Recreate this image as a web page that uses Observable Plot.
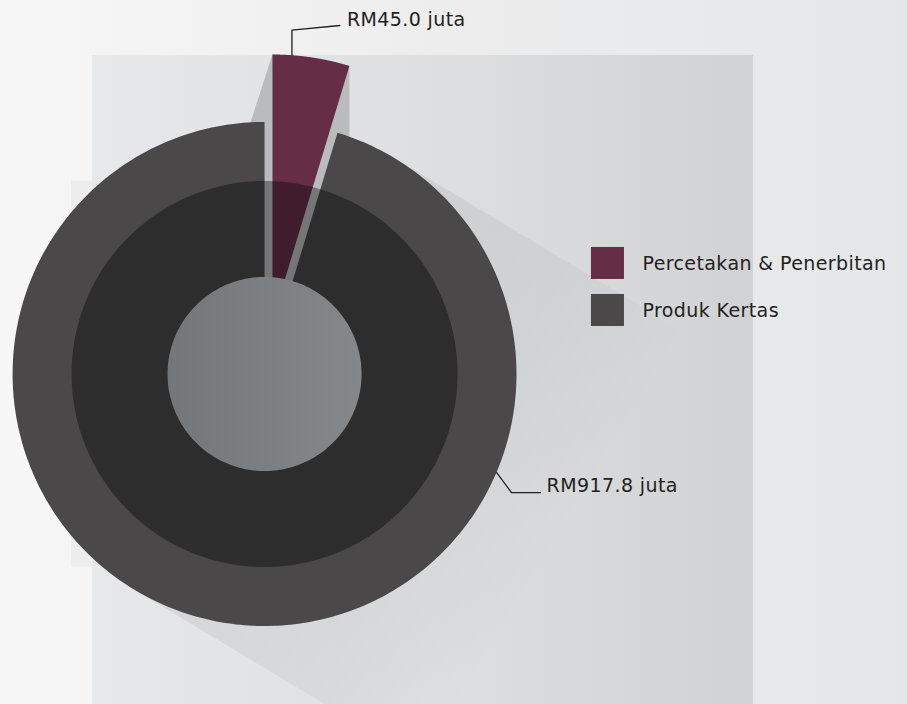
<!DOCTYPE html>
<html>
<head>
<meta charset="utf-8">
<script src="https://cdn.jsdelivr.net/npm/d3@7"></script>
<script src="https://cdn.jsdelivr.net/npm/@observablehq/plot@0.6"></script>
<style>
  html, body { margin: 0; padding: 0; background: #efefef; }
  #chart svg { display: block; }
</style>
</head>
<body>
<div id="chart"></div>
<script>
// ---- data ----
const categories = ["Percetakan & Penerbitan", "Produk Kertas"];
const values = [45.0, 917.8];
const valueLabels = ["RM45.0 juta", "RM917.8 juta"];
const sliceColors = ["#662e46", "#4a4848"];

// ---- layout (units of the pie radius, pie centred at 0,0) ----
const W = 907, H = 704;
const xDomain = [-1.048, 2.552];
const yDomain = [-1.3115, 1.482];
const R = 1, overlayR = 0.766, holeR = 0.385, explodeR = 1.055, explodeOff = 0.215;
const panel = {x1: -0.6825, x2: 1.9405, y1: -1.3115, y2: 1.264};
const shadowDir = -31 * Math.PI / 180; // long shadow direction (down-right)

const arcs = d3.pie().sort(null).value(d => d)(values);

function pt(c, r, a) { return {x: c.x + r * Math.sin(a), y: c.y + r * Math.cos(a)}; }
function sector(c, r, a0, a1, n = 180) {
  const p = [{x: c.x, y: c.y}];
  for (let i = 0; i <= n; i++) p.push(pt(c, r, a0 + (a1 - a0) * i / n));
  return p;
}
function circle(r, n = 240) {
  const p = [];
  for (let i = 0; i < n; i++) p.push(pt({x: 0, y: 0}, r, 2 * Math.PI * i / n));
  return p;
}
const O = {x: 0, y: 0};

// exploded first slice
const a0 = arcs[0].startAngle, a1 = arcs[0].endAngle, am = (a0 + a1) / 2;
const apex = pt(O, explodeOff, am);
const slice0 = sector(apex, explodeR, a0, a1);
const slice1 = sector(O, R, arcs[1].startAngle, arcs[1].endAngle, 360);
const TL = pt(apex, explodeR, a0), TR = pt(apex, explodeR, a1);
const sliceShadow = [TL, TR, {x: TR.x, y: 0.3}, {x: -0.01, y: 0.3}, {x: TL.x - 0.09, y: 0.99}];

// long shadow of the ring
const dx = Math.cos(shadowDir), dy = Math.sin(shadowDir);
const nx = -dy, ny = dx;
const P1 = {x: nx * R, y: ny * R}, P2 = {x: -nx * R, y: -ny * R};
const L = 3;
const longShadow = [P1, {x: P1.x + L * dx, y: P1.y + L * dy}, {x: P2.x + L * dx, y: P2.y + L * dy}, P2];

const overlay = circle(overlayR);
const hole = circle(holeR);

// leader lines
const lp0 = pt(apex, explodeR, a0 + 0.25 * (a1 - a0));
const leader0 = [lp0, {x: lp0.x, y: lp0.y + 0.1}, {x: lp0.x + 0.19, y: lp0.y + 0.118}];
const lp1 = pt(O, R, 113 * Math.PI / 180);
const leader1 = [lp1, {x: lp1.x + 0.06, y: lp1.y - 0.08}, {x: lp1.x + 0.175, y: lp1.y - 0.08}];
const labels = [
  {x: leader0[2].x + 0.028, y: leader0[2].y + 0.024, text: valueLabels[0]},
  {x: leader1[2].x + 0.024, y: leader1[2].y + 0.028, text: valueLabels[1]}
];

// legend
const legend = categories.map((c, i) => ({
  x1: 1.2976, x2: 1.4286,
  y1: 0.375 - i * 0.1865, y2: 0.502 - i * 0.1865,
  tx: 1.50, ty: 0.4385 - i * 0.1865,
  name: c, color: sliceColors[i]
}));

const strip = {x1: -overlayR, x2: panel.x1, y1: -overlayR, y2: overlayR};

const font = "'DejaVu Sans', sans-serif";
const chart = Plot.plot({
  width: W, height: H,
  margin: 0,
  x: {domain: xDomain, axis: null},
  y: {domain: yDomain, axis: null},
  style: {background: "linear-gradient(90deg, #f7f7f7 0%, #eeeeef 45%, #e5e6e7 100%)", fontFamily: font, letterSpacing: "0.4px", color: "#231f20"},
  marks: [
    Plot.rect([strip], {x1: "x1", x2: "x2", y1: "y1", y2: "y2", fill: "#ededee"}),
    Plot.rect([panel], {x1: "x1", x2: "x2", y1: "y1", y2: "y2", fill: "url(#panelGrad)"}),
    Plot.line(longShadow, {x: "x", y: "y", curve: "linear-closed", fill: "url(#shadowGrad)", stroke: "none"}),
    Plot.line(sliceShadow, {x: "x", y: "y", curve: "linear-closed", fill: "#babbbd", stroke: "none"}),
    Plot.line(slice1, {x: "x", y: "y", curve: "linear-closed", fill: sliceColors[1], stroke: "none"}),
    Plot.line(slice0, {x: "x", y: "y", curve: "linear-closed", fill: sliceColors[0], stroke: "none"}),
    Plot.line(overlay, {x: "x", y: "y", curve: "linear-closed", fill: "#000", fillOpacity: 0.37, stroke: "none"}),
    Plot.line(hole, {x: "x", y: "y", curve: "linear-closed", fill: "url(#holeGrad)", stroke: "none"}),
    Plot.line(leader0, {x: "x", y: "y", stroke: "#231f20", strokeWidth: 1.3}),
    Plot.line(leader1, {x: "x", y: "y", stroke: "#231f20", strokeWidth: 1.3}),
    Plot.text(labels, {x: "x", y: "y", text: "text", textAnchor: "start", fontSize: 19, fill: "#231f20"}),
    Plot.rect(legend, {x1: "x1", x2: "x2", y1: "y1", y2: "y2", fill: "color"}),
    Plot.text(legend, {x: "tx", y: "ty", text: "name", textAnchor: "start", fontSize: 19, fill: "#231f20"})
  ],
  color: {type: "identity"}
});

// gradients
const sx = chart.scale("x"), sy = chart.scale("y");
const cx = sx.apply(0), cy = sy.apply(0);
const ex = sx.apply(1.35 * dx), ey = sy.apply(1.35 * dy);
const defs = d3.select(chart).insert("defs", ":first-child");
const pg = defs.append("linearGradient").attr("id", "panelGrad").attr("x1", 0).attr("x2", 1).attr("y1", 0).attr("y2", 0);
pg.append("stop").attr("offset", 0).attr("stop-color", "#e7e8e9");
pg.append("stop").attr("offset", 0.5).attr("stop-color", "#dedfe0");
pg.append("stop").attr("offset", 1).attr("stop-color", "#d1d2d4");
const sg = defs.append("linearGradient").attr("id", "shadowGrad").attr("gradientUnits", "userSpaceOnUse")
  .attr("x1", cx).attr("y1", cy).attr("x2", ex).attr("y2", ey);
sg.append("stop").attr("offset", 0).attr("stop-color", "#000").attr("stop-opacity", 0.075);
sg.append("stop").attr("offset", 0.6).attr("stop-color", "#000").attr("stop-opacity", 0.04);
sg.append("stop").attr("offset", 1).attr("stop-color", "#000").attr("stop-opacity", 0);
const hg = defs.append("linearGradient").attr("id", "holeGrad").attr("x1", 0).attr("x2", 1).attr("y1", 0).attr("y2", 0);
hg.append("stop").attr("offset", 0).attr("stop-color", "#74777a");
hg.append("stop").attr("offset", 1).attr("stop-color", "#85888b");

document.getElementById("chart").appendChild(chart);
</script>
</body>
</html>
